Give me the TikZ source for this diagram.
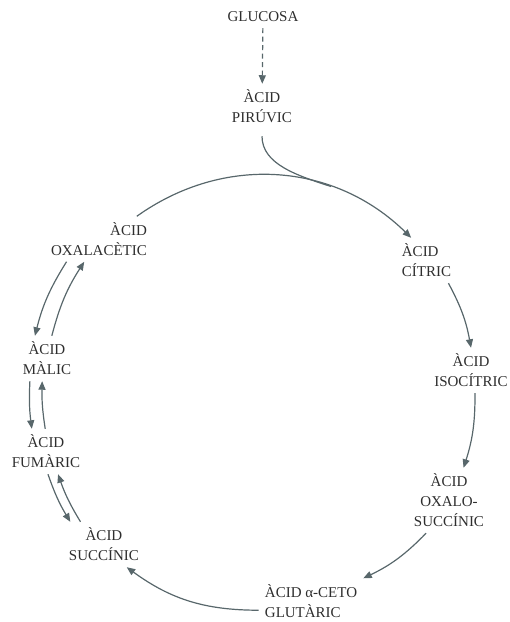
\documentclass[tikz,border=0pt]{standalone}
\usepackage{fontspec}
\setmainfont{Liberation Serif}
\usetikzlibrary{arrows.meta}
\definecolor{fletxa}{HTML}{58676B}
\definecolor{lletra}{HTML}{2E2E2E}

\begin{document}
\begin{tikzpicture}[x=1pt, y=1pt,
        every node/.style={inner sep=6pt, text=lletra, align=center,
            font=\fontsize{15}{20}\selectfont},
        cicle/.style={draw=fletxa, line width=1.2pt, -{Triangle[length=8.5pt, width=7pt]}}
    ]
        \useasboundingbox (0,0) rectangle (510,-622);

        % Nodes del cicle
        \node (glu) at (263,-17) {GLUCOSA};
        \node (pir) at (262,-106.5) {ÀCID\\PIRÚVIC};
        \node[align=right] (oxa) at (99,-239) {ÀCID\\OXALACÈTIC};
        \node[align=left] (cit) at (426.5,-260.5) {ÀCID\\CÍTRIC};
        \node (iso) at (471,-370.5) {ÀCID\\ISOCÍTRIC};
        \node (oxs) at (449,-500.5) {ÀCID\\OXALO-\\SUCCÍNIC};
        \node[align=left] (akg) at (311,-601) {ÀCID α-CETO\\GLUTÀRIC};
        \node (suc) at (104,-544.5) {ÀCID\\SUCCÍNIC};
        \node (fum) at (46,-451.5) {ÀCID\\FUMÀRIC};
        \node (mal) at (47,-358.5) {ÀCID\\MÀLIC};
        \coordinate (entrada) at (331,-186.5);

        % Entrada al cicle
        \draw[cicle, dash pattern=on 5pt off 3.5pt] (glu) -- (pir);
        \draw[draw=fletxa, line width=1.2pt, shorten <=7pt] (pir.south) to[out=-90, in=162] (entrada);

        % Fletxes del cicle
        \draw[cicle] (oxa.31) to[bend left=40] (cit.124);
        \draw[cicle] (cit.-46) to[bend left=9] (iso.north);
        \draw[cicle] (iso.-80) to[bend left=9] (oxs.66);
        \draw[cicle] (oxs.-125) to[bend left=10] (akg.north east);
        \draw[cicle] (akg.190) to[bend left=18] (suc.-45);

        % Reaccions reversibles
        \draw[cicle] (fum.-85) to[bend right=6] (suc.146);
        \draw[cicle] (suc.136) to[bend left=6] (fum.-62);
        \draw[cicle] (mal.-127) to[bend right=5] (fum.122);
        \draw[cicle] (fum.92) to[bend left=5] (mal.-102);
        \draw[cicle] (oxa.-145) to[bend right=9] (mal.118);
        \draw[cicle] (mal.78) to[bend left=9] (oxa.-123);
    \end{tikzpicture}
\end{document}
